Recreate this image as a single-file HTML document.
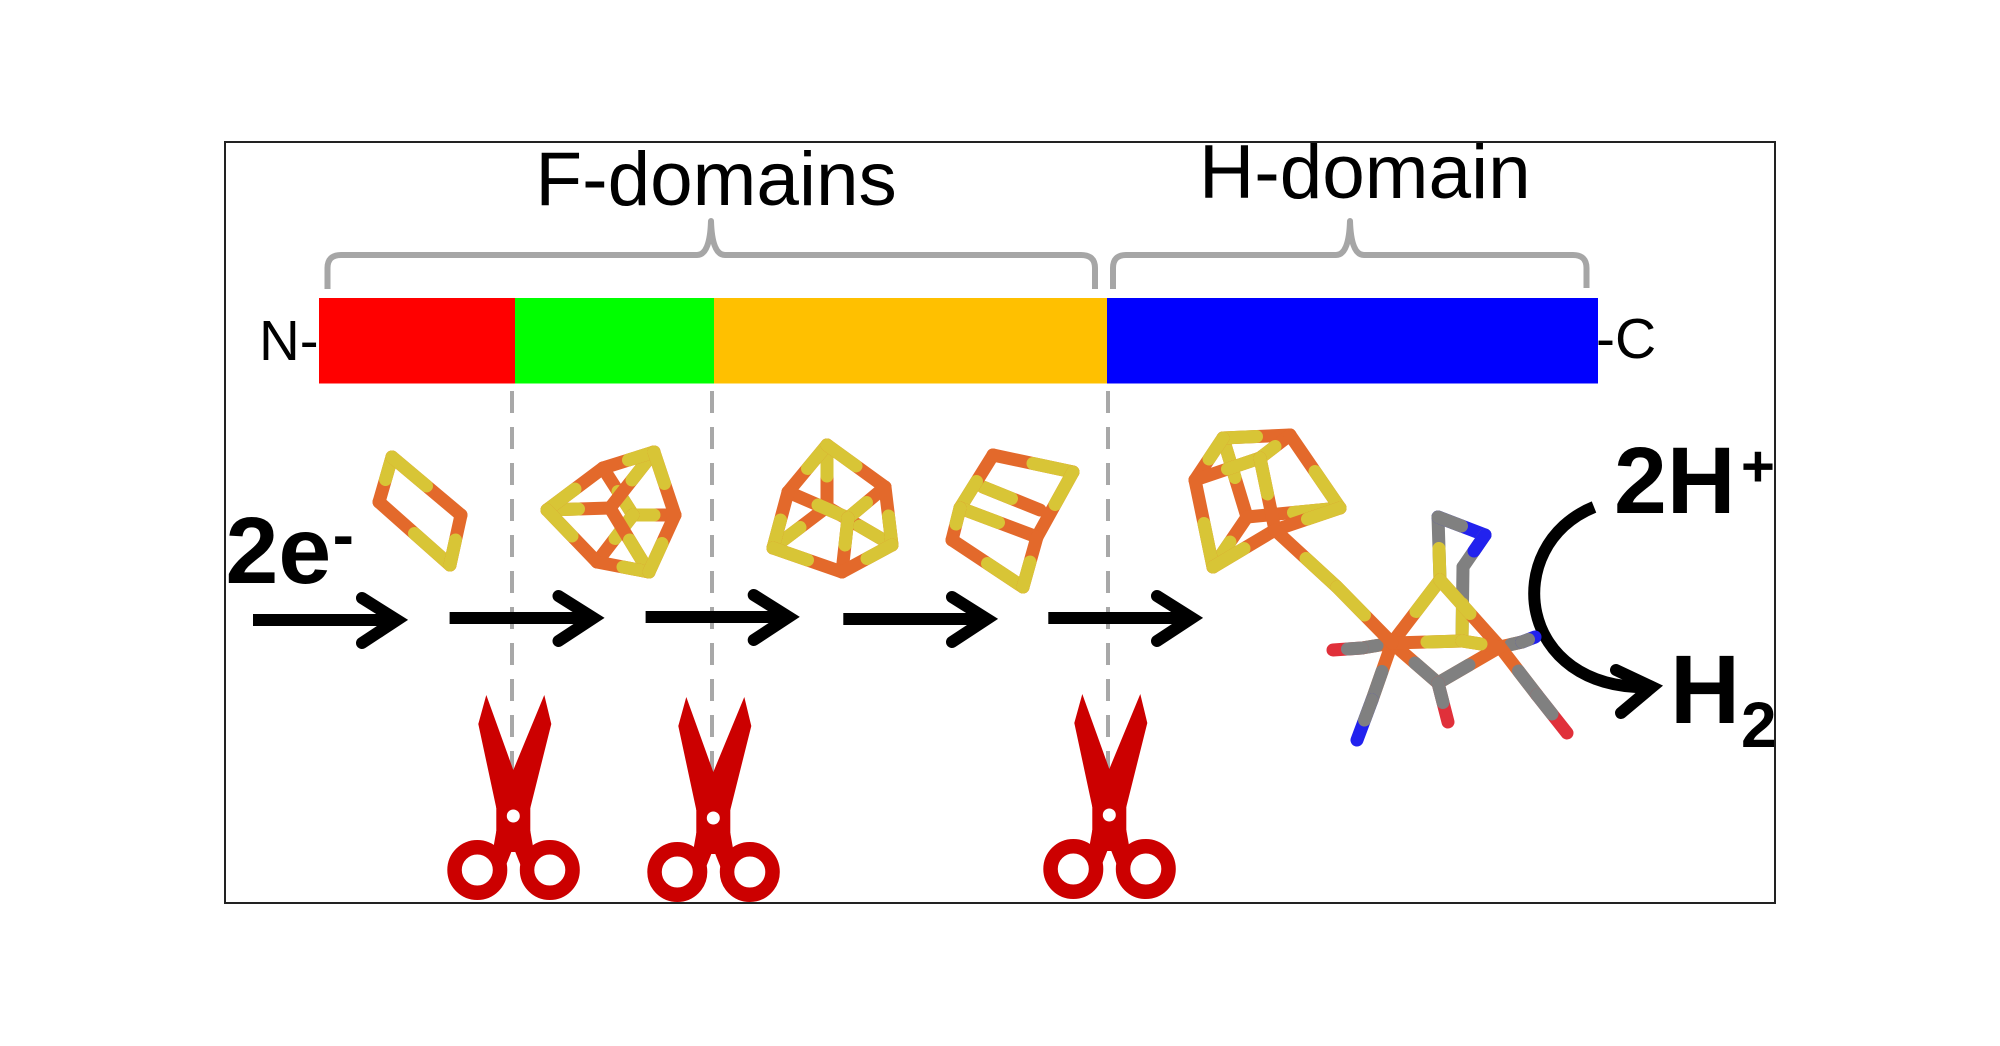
<!DOCTYPE html>
<html><head><meta charset="utf-8"><style>
html,body{margin:0;padding:0;background:#fff;}
svg{display:block;}
.t{font-family:"Liberation Sans",Arial,sans-serif;fill:#000;}
.bd{font-weight:bold;}
.b path{fill:none;stroke-width:13;stroke-linecap:round;}
.f{stroke:#e3692b;} .s{stroke:#d8c536;} .g{stroke:#808080;} .n{stroke:#2222ee;} .o{stroke:#e0303a;}
.ar{fill:none;stroke:#000;stroke-width:12;}
</style></head><body>
<svg width="2000" height="1046" viewBox="0 0 2000 1046" xmlns="http://www.w3.org/2000/svg">
<rect width="2000" height="1046" fill="#fff"/>
<rect x="225" y="142" width="1550" height="761" fill="none" stroke="#222" stroke-width="2"/>

<!-- titles -->
<text class="t" x="535.4" y="205" font-size="76.5">F-domains</text>
<text class="t" x="1199" y="198" font-size="76.5">H-domain</text>

<!-- braces -->
<g fill="none" stroke="#a6a6a6" stroke-width="6" stroke-linejoin="round">
<path d="M327.5,289 L327.5,268 Q327.5,255 341,255 L697,255 Q710,255 711,221 Q712,255 725,255 L1081,255 Q1095,255 1095,268 L1095,289"/>
<path d="M1113,289 L1113,268 Q1113,255 1126,255 L1336,255 Q1349,255 1350,221 Q1351,255 1364,255 L1573,255 Q1586.5,255 1586.5,268 L1586.5,288"/>
</g>

<!-- bar -->
<rect x="319" y="298" width="196" height="85.5" fill="#ff0000"/>
<rect x="515" y="298" width="199" height="85.5" fill="#00ff00"/>
<rect x="714" y="298" width="393" height="85.5" fill="#ffc000"/>
<rect x="1107" y="298" width="491" height="85.5" fill="#0000ff"/>
<text class="t" x="259" y="360" font-size="56.5">N-</text>
<text class="t" x="1596" y="358" font-size="57">-C</text>

<!-- dashed lines -->
<g stroke="#a8a8a8" stroke-width="4" stroke-dasharray="22 14" fill="none">
<path d="M512,391 V790"/>
<path d="M712,391 V790"/>
<path d="M1108,391 V790"/>
</g>

<!-- scissors -->
<defs>
<g id="sc">
<path d="M-27,-121 L0,-46 L31,-121 L38,-92 L17,-8 L-17,-8 L-35,-92 Z" fill="#cc0000"/>
<rect x="-17" y="-14" width="34" height="42" fill="#cc0000"/>
<path d="M-17,15 L17,15 L20,32 L10,56 L2,36 L-2,36 L-10,56 L-20,32 Z" fill="#cc0000"/>
<circle cx="-36" cy="54" r="22.75" fill="none" stroke="#cc0000" stroke-width="14.5"/>
<circle cx="36.5" cy="54" r="22.75" fill="none" stroke="#cc0000" stroke-width="14.5"/>
<circle cx="0" cy="0" r="6.5" fill="#fff"/>
</g>
</defs>
<use href="#sc" x="513.3" y="816"/>
<use href="#sc" x="713.3" y="818"/>
<use href="#sc" x="1109.3" y="815"/>

<!-- arrows -->
<g class="ar">
<path d="M253,620 H397" stroke-linecap="butt"/><path d="M362,598 L397,620 L362,643" stroke-linecap="round"/>
<path d="M449.6,618 H593.5" stroke-linecap="butt"/><path d="M558.5,596 L593.5,618 L558.5,641" stroke-linecap="round"/>
<path d="M645.6,617 H788.7" stroke-linecap="butt"/><path d="M753.7,595 L788.7,617 L753.7,640" stroke-linecap="round"/>
<path d="M843.3,619 H987" stroke-linecap="butt"/><path d="M952,597 L987,619 L952,642" stroke-linecap="round"/>
<path d="M1048.3,618 H1192" stroke-linecap="butt"/><path d="M1157,596 L1192,618 L1157,641" stroke-linecap="round"/>
<path d="M1594,507 C1500,545 1515,692 1652,687" stroke-linecap="butt"/>
<path d="M1616,670 L1652,687 L1621,713" stroke-linecap="round"/>
</g>

<!-- texts bold -->
<text class="t bd" x="225.5" y="583" font-size="95">2e</text>
<text class="t bd" x="332.6" y="557" font-size="64">-</text>
<text class="t bd" x="1614" y="513" font-size="95">2H</text>
<text class="t bd" x="1741" y="486" font-size="58">+</text>
<text class="t bd" x="1670" y="723" font-size="97">H</text>
<text class="t bd" x="1741" y="747" font-size="64">2</text>

<!-- clusters -->
<g class="b">
<!-- cluster 1 -->
<path class="f" d="M392,457 L379,502"/><path class="s" d="M392,457 L385.5,479.5"/>
<path class="f" d="M392,457 L461,515"/><path class="s" d="M392,457 L426.5,486"/>
<path class="f" d="M450,565 L379,502"/><path class="s" d="M450,565 L414.5,533.5"/>
<path class="f" d="M450,565 L461,515"/><path class="s" d="M450,565 L455.5,540"/>

<!-- cluster 2 -->
<path class="f" d="M633,515 L603,468"/><path class="s" d="M633,515 L618,491.5"/>
<path class="f" d="M633,515 L675,515"/><path class="s" d="M633,515 L654,515"/>
<path class="f" d="M633,515 L597,562"/><path class="s" d="M633,515 L615,538.5"/>
<path class="f" d="M547,510 L610,508"/><path class="s" d="M547,510 L578.5,509"/>
<path class="f" d="M654,452 L610,508"/><path class="s" d="M654,452 L632,480"/>
<path class="f" d="M649,572 L610,508"/><path class="s" d="M649,572 L629.5,540"/>
<path class="f" d="M654,452 L603,468"/><path class="s" d="M654,452 L628.5,460"/>
<path class="f" d="M547,510 L603,468"/><path class="s" d="M547,510 L575,489"/>
<path class="f" d="M547,510 L597,562"/><path class="s" d="M547,510 L572,536"/>
<path class="f" d="M649,572 L597,562"/><path class="s" d="M649,572 L623,567"/>
<path class="f" d="M649,572 L675,515"/><path class="s" d="M649,572 L662,543.5"/>
<path class="f" d="M654,452 L675,515"/><path class="s" d="M654,452 L664.5,483.5"/>

<!-- cluster 3 -->
<path class="f" d="M827,445 L827,507"/><path class="s" d="M827,445 L827,476"/>
<path class="f" d="M773,548 L827,507"/><path class="s" d="M773,548 L800,527.5"/>
<path class="f" d="M892,545 L827,507"/><path class="s" d="M892,545 L859.5,526"/>
<path class="f" d="M827,445 L788,492"/><path class="s" d="M827,445 L807.5,468.5"/>
<path class="f" d="M827,445 L885,487"/><path class="s" d="M827,445 L856,466"/>
<path class="f" d="M848,518 L788,492"/><path class="s" d="M848,518 L818,505"/>
<path class="f" d="M848,518 L885,487"/><path class="s" d="M848,518 L866.5,502.5"/>
<path class="f" d="M848,518 L842,572"/><path class="s" d="M848,518 L845,545"/>
<path class="f" d="M773,548 L788,492"/><path class="s" d="M773,548 L780.5,520"/>
<path class="f" d="M773,548 L842,572"/><path class="s" d="M773,548 L807.5,560"/>
<path class="f" d="M892,545 L885,487"/><path class="s" d="M892,545 L888.5,516"/>
<path class="f" d="M892,545 L842,572"/><path class="s" d="M892,545 L867,558.5"/>

<!-- cluster 4 -->
<path class="f" d="M983,487 L1040,510"/><path class="s" d="M983,487 L1011.5,498.5"/>
<path class="f" d="M960,508 L993,455"/><path class="s" d="M960,508 L976.5,481.5"/>
<path class="f" d="M1073,472 L993,455"/><path class="s" d="M1073,472 L1033,463.5"/>
<path class="f" d="M960,508 L1037,537"/><path class="s" d="M960,508 L998.5,522.5"/>
<path class="f" d="M1073,472 L1037,537"/><path class="s" d="M1073,472 L1055,504.5"/>
<path class="f" d="M960,508 L952,540"/><path class="s" d="M960,508 L956,524"/>
<path class="f" d="M1023,587 L952,540"/><path class="s" d="M1023,587 L987.5,563.5"/>
<path class="f" d="M1023,587 L1037,537"/><path class="s" d="M1023,587 L1030,562"/>

<!-- cluster 5 (4Fe4S of H-cluster) -->
<path class="f" d="M1223,438 L1247,517"/><path class="s" d="M1223,438 L1235,477.5"/>
<path class="f" d="M1213,567 L1247,517"/><path class="s" d="M1213,567 L1230,542"/>
<path class="f" d="M1340,508 L1247,517"/><path class="s" d="M1340,508 L1293.5,512.5"/>
<path class="f" d="M1223,438 L1290,435"/><path class="s" d="M1223,438 L1256.5,436.5"/>
<path class="f" d="M1223,438 L1195,480"/><path class="s" d="M1223,438 L1209,459"/>
<path class="f" d="M1260,458 L1195,480"/><path class="s" d="M1260,458 L1227.5,469"/>
<path class="f" d="M1260,458 L1290,435"/><path class="s" d="M1260,458 L1275,446.5"/>
<path class="f" d="M1340,508 L1290,435"/><path class="s" d="M1340,508 L1315,471.5"/>
<path class="f" d="M1340,508 L1275,530"/><path class="s" d="M1340,508 L1307.5,519"/>
<path class="f" d="M1213,567 L1195,480"/><path class="s" d="M1213,567 L1204,523.5"/>
<path class="f" d="M1213,567 L1275,530"/><path class="s" d="M1213,567 L1244,548.5"/>
<path class="f" d="M1260,458 L1275,530"/><path class="s" d="M1260,458 L1267.5,494"/>

<!-- ADT bridge -->
<path class="g" d="M1440,580 L1438,517"/><path class="s" d="M1440,580 L1439,548.5"/>
<path class="n" d="M1438,517 L1485,535"/><path class="g" d="M1438,517 L1461.5,526"/>
<path class="g" d="M1485,535 L1463,567"/><path class="n" d="M1485,535 L1474,551"/>
<path class="g" d="M1462,641 L1463,567"/><path class="s" d="M1462,641 L1462.5,604"/>

<!-- ligands -->
<path class="f" d="M1362,648 L1392,643"/><path class="g" d="M1362,648 L1377,645.5"/>
<path class="o" d="M1362,648 L1333,650"/><path class="g" d="M1362,648 L1347.5,649"/>
<path class="f" d="M1372,700 L1392,643"/><path class="g" d="M1372,700 L1382,671.5"/>
<path class="n" d="M1372,700 L1357,740"/><path class="g" d="M1372,700 L1364.5,720"/>
<path class="f" d="M1438,683 L1392,643"/><path class="g" d="M1438,683 L1415,663"/>
<path class="f" d="M1438,683 L1500,647"/><path class="g" d="M1438,683 L1469,665"/>
<path class="o" d="M1438,683 L1448,722"/><path class="g" d="M1438,683 L1443,702.5"/>
<path class="f" d="M1522,642 L1500,647"/><path class="g" d="M1522,642 L1511,644.5"/>
<path class="n" d="M1522,642 L1535,637"/><path class="g" d="M1522,642 L1528.5,639.5"/>
<path class="f" d="M1537,695 L1500,647"/><path class="g" d="M1537,695 L1518.5,671"/>
<path class="o" d="M1537,695 L1567,733"/><path class="g" d="M1537,695 L1552,714"/>

<!-- 2Fe core -->
<path class="f" d="M1440,580 L1392,643"/><path class="s" d="M1440,580 L1416,611.5"/>
<path class="f" d="M1440,580 L1500,647"/><path class="s" d="M1440,580 L1470,613.5"/>
<path class="f" d="M1462,641 L1392,643"/><path class="s" d="M1462,641 L1427,642"/>
<path class="f" d="M1462,641 L1500,647"/><path class="s" d="M1462,641 L1481,644"/>

<!-- cysteine chain -->
<path class="f" d="M1337,587 L1275,530"/><path class="s" d="M1337,587 L1306,558.5"/>
<path class="f" d="M1337,587 L1392,643"/><path class="s" d="M1337,587 L1364.5,615"/>
</g>
</svg>
</body></html>
